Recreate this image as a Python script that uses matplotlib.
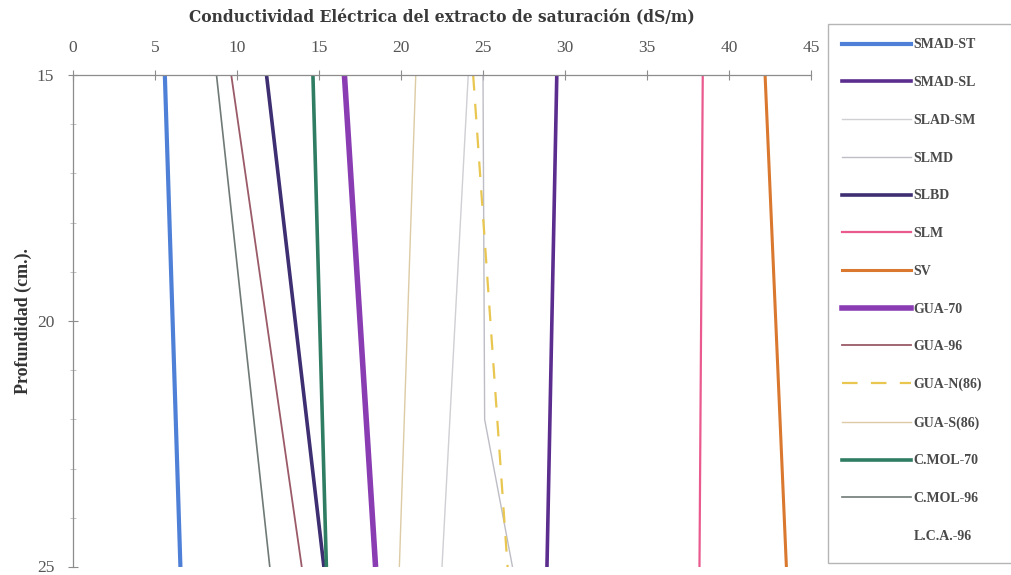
import matplotlib
matplotlib.use("Agg")
import matplotlib.pyplot as plt
from matplotlib.lines import Line2D
from matplotlib.patches import Rectangle
from matplotlib.ticker import MultipleLocator
from matplotlib.transforms import ScaledTranslation

plt.rcParams['font.family'] = ['Liberation Serif', 'DejaVu Serif']

# Electrical conductivity of the saturation extract (dS/m) at each depth (cm)
series_names = ["SMAD-ST", "SMAD-SL", "SLAD-SM", "SLMD", "SLBD", "SLM", "SV",
                "GUA-70", "GUA-96", "GUA-N(86)", "GUA-S(86)", "C.MOL-70",
                "C.MOL-96", "L.C.A.-96"]

smad_st_depth = [15, 25];      smad_st_ce = [5.6, 6.55]
smad_sl_depth = [15, 25];      smad_sl_ce = [29.5, 28.9]
slad_sm_depth = [15, 25];      slad_sm_ce = [24.1, 22.5]
slmd_depth = [15, 22, 25];     slmd_ce = [25.0, 25.1, 26.8]
slbd_depth = [15, 25];         slbd_ce = [11.8, 15.3]
slm_depth = [15, 25];          slm_ce = [38.4, 38.2]
sv_depth = [15, 25];           sv_ce = [42.2, 43.5]
gua70_depth = [15, 25];        gua70_ce = [16.55, 18.45]
gua96_depth = [15, 25];        gua96_ce = [9.65, 13.95]
guan86_depth = [15, 25];       guan86_ce = [24.4, 26.5]
guas86_depth = [15, 25];       guas86_ce = [20.9, 19.9]
cmol70_depth = [15, 25];       cmol70_ce = [14.63, 15.45]
cmol96_depth = [15, 25];       cmol96_ce = [8.75, 12.0]
lca96_depth = [];              lca96_ce = []

x_ticks = [0, 5, 10, 15, 20, 25, 30, 35, 40, 45]
y_ticks = [15, 20, 25]

data = [
    (smad_st_depth, smad_st_ce, dict(color="#4f80d8", lw=3.0)),
    (smad_sl_depth, smad_sl_ce, dict(color="#5b2d8e", lw=2.6)),
    (slad_sm_depth, slad_sm_ce, dict(color="#cfcfd4", lw=1.0)),
    (slmd_depth, slmd_ce, dict(color="#bdbdc6", lw=1.0)),
    (slbd_depth, slbd_ce, dict(color="#3e2f72", lw=2.6)),
    (slm_depth, slm_ce, dict(color="#ea5a8e", lw=1.6)),
    (sv_depth, sv_ce, dict(color="#d9782e", lw=2.2)),
    (gua70_depth, gua70_ce, dict(color="#8a3db3", lw=4.0)),
    (gua96_depth, gua96_ce, dict(color="#9a5a68", lw=1.3)),
    (guan86_depth, guan86_ce, dict(color="#e8c650", lw=1.6, ls=(0, (7, 6)))),
    (guas86_depth, guas86_ce, dict(color="#dccba4", lw=1.0)),
    (cmol70_depth, cmol70_ce, dict(color="#2f7d62", lw=2.6)),
    (cmol96_depth, cmol96_ce, dict(color="#6f7a76", lw=1.2)),
    (lca96_depth, lca96_ce, dict(color="none", lw=1.0)),
]

fig = plt.figure(figsize=(10.11, 5.75), dpi=100)
W, H = 1011, 575
ax = fig.add_axes([73 / W, 1 - 567 / H, (811 - 73) / W, (567 - 75) / H])

handles = []
for name, (d, v, st) in zip(series_names, data):
    if len(d):
        ax.plot(v, d, solid_capstyle="butt", **st)
    handles.append(Line2D([], [], label=name, **st))

ax.set_xlim(0, 45)
ax.set_ylim(25, 15)
ax.xaxis.set_ticks_position("top")
ax.xaxis.set_label_position("top")
ax.set_xticks(x_ticks)
ax.set_yticks(y_ticks)
ax.yaxis.set_minor_locator(MultipleLocator(1))
for side in ("right", "bottom"):
    ax.spines[side].set_visible(False)
for side in ("top", "left"):
    ax.spines[side].set_color("#8c8c8c")
    ax.spines[side].set_linewidth(0.9)
ax.tick_params(axis="both", which="major", direction="inout", length=7,
               width=0.8, color="#8c8c8c", labelsize=12.5, labelcolor="#555555")
ax.tick_params(axis="x", pad=10)
ax.tick_params(axis="y", pad=10)
ax.tick_params(axis="y", which="minor", direction="inout", length=5,
               width=0.6, color="#b8b8b8")
# keep the lowest depth label inside the figure edge
for lbl in ax.get_yticklabels():
    if lbl.get_text() == "25":
        lbl.set_va("bottom")
        lbl.set_transform(lbl.get_transform() +
                          ScaledTranslation(0, -6.5 / 72, fig.dpi_scale_trans))

ax.set_xlabel("Conductividad Eléctrica del extracto de saturación (dS/m)",
              fontsize=11.2, fontweight="bold", color="#3a3a3a",
              family="DejaVu Serif", labelpad=13)
ax.set_ylabel("Profundidad (cm.).", fontsize=13, fontweight="bold",
              color="#333333")
ax.yaxis.set_label_coords(-0.055, 0.5)

# legend frame running off the right edge
fig.patches.append(Rectangle((828 / W, 1 - 563 / H), 0.3, (563 - 24) / H,
                             transform=fig.transFigure, facecolor="white",
                             edgecolor="#b5b5b5", lw=1.0, zorder=0))

leg = fig.legend(handles=handles, loc="upper left",
                 bbox_to_anchor=(842 / W, 1 - 38.5 / H), frameon=False,
                 prop=dict(family="Liberation Serif", weight="bold", size=10),
                 handlelength=5.0, handletextpad=0.15, labelspacing=1.78,
                 borderpad=0, borderaxespad=0)
for t in leg.get_texts():
    t.set_color("#4a4a4a")

fig.savefig("out.png", dpi=100)
